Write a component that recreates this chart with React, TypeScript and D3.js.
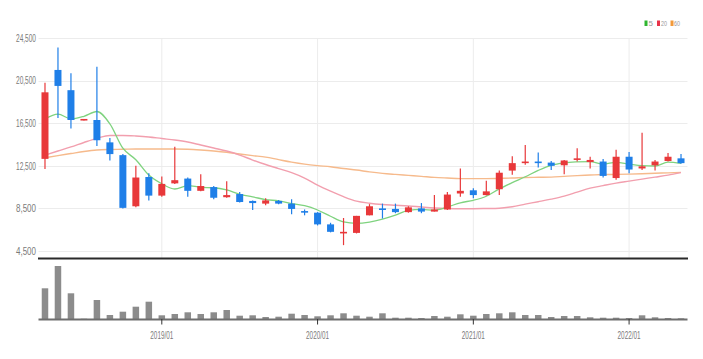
import React from 'react';
import * as d3 from 'd3';

// monthly candles, 2018/04 .. 2022/05
const months = [
  '2018/04', '2018/05', '2018/06', '2018/07', '2018/08', '2018/09', '2018/10', '2018/11', '2018/12',
  '2019/01', '2019/02', '2019/03', '2019/04', '2019/05', '2019/06', '2019/07', '2019/08', '2019/09', '2019/10', '2019/11', '2019/12',
  '2020/01', '2020/02', '2020/03', '2020/04', '2020/05', '2020/06', '2020/07', '2020/08', '2020/09', '2020/10', '2020/11', '2020/12',
  '2021/01', '2021/02', '2021/03', '2021/04', '2021/05', '2021/06', '2021/07', '2021/08', '2021/09', '2021/10', '2021/11', '2021/12',
  '2022/01', '2022/02', '2022/03', '2022/04', '2022/05',
];

const opens = [
  13150, 21500, 19600, 16750, 16800, 14700, 13500, 8700, 11450, 9700,
  10850, 11300, 10150, 10500, 9550, 9850, 9200, 8950, 9200, 8950,
  8250, 8100, 7000, 6150, 6200, 7850, 8500, 8450, 8150, 8500,
  8200, 8400, 9900, 10200, 9750, 10300, 12050, 12750, 12900, 12800,
  12550, 13050, 12850, 12900, 11350, 13350, 12250, 12550, 12950, 13200,
];
const highs = [
  20300, 23600, 21200, 16900, 21800, 15100, 13600, 12500, 11800, 11500,
  14300, 11400, 11700, 10600, 11050, 10050, 9250, 9450, 9300, 9350,
  8400, 8150, 7150, 7600, 7800, 8900, 8950, 8950, 8700, 9000,
  9750, 10050, 12250, 10400, 11100, 12050, 13400, 14450, 13750, 12950,
  13050, 14150, 13350, 13150, 14000, 13800, 15600, 13050, 13700, 13600,
];
const lows = [
  12200, 17000, 16000, 16750, 14350, 13000, 8500, 8600, 9250, 9600,
  10800, 9600, 10100, 9350, 9500, 9050, 8350, 8800, 8900, 7950,
  7850, 6900, 6250, 5050, 6150, 7850, 7550, 8050, 8100, 8050,
  8200, 8350, 9600, 9450, 9700, 9750, 11650, 12600, 12350, 12100,
  11700, 12900, 12250, 11400, 11200, 11800, 12100, 12050, 12900, 12700,
];
const closes = [
  19400, 20000, 16800, 16900, 14900, 13600, 8550, 11400, 9700, 10800,
  11150, 10150, 10600, 9500, 9750, 9100, 9000, 9250, 8950, 8450,
  8100, 7000, 6300, 6300, 7800, 8700, 8350, 8150, 8600, 8200,
  8400, 9800, 10150, 9750, 10100, 11850, 12750, 12900, 12750, 12500,
  13000, 13200, 13050, 11550, 13350, 12150, 12450, 12900, 13350, 12750,
];
const volumes = [
  3070, 5300, 2570, 30, 1900, 400, 730, 1230, 1730, 370,
  500, 670, 500, 670, 900, 330, 370, 200, 230, 530,
  400, 270, 370, 570, 330, 230, 570, 130, 130, 100,
  300, 230, 470, 330, 500, 570, 670, 400, 400, 200,
  300, 300, 170, 130, 130, 100, 370, 170, 100, 70,
];

const ma5 = [
  16900, 17350, 16900, 17150, 17600, 16440, 14150, 13070, 11630, 10810,
  10320, 10640, 10480, 10440, 10230, 9820, 9590, 9320, 9210, 8950,
  8750, 8350, 7760, 7230, 7100, 7220, 7490, 7860, 8320, 8400,
  8340, 8630, 9030, 9260, 9640, 10330, 10920, 11470, 12070, 12550,
  12780, 12870, 12900, 12660, 12830, 12660, 12510, 12480, 12840, 12720,
];
const ma20 = [
  13500, 13890, 14270, 14690, 15080, 15350, 15350, 15300, 15210, 15060,
  14920, 14730, 14450, 14170, 13890, 13510, 13040, 12620, 12240, 11860,
  11350, 10690, 10120, 9600, 9180, 8990, 8870, 8800, 8730, 8630,
  8540, 8490, 8470, 8470, 8490, 8520, 8660, 8900, 9130, 9370,
  9650, 10030, 10400, 10640, 10870, 11060, 11250, 11440, 11630, 11860,
];
const ma60 = [
  13260, 13460, 13650, 13840, 13980, 14030, 14050, 14080, 14080, 14080,
  14080, 14050, 13980, 13890, 13770, 13610, 13460, 13320, 13080, 12850,
  12660, 12520, 12410, 12240, 12100, 11930, 11790, 11690, 11600, 11510,
  11410, 11350, 11300, 11300, 11300, 11320, 11350, 11400, 11420, 11440,
  11510, 11580, 11630, 11680, 11690, 11720, 11760, 11800, 11840, 11880,
];

const priceTicks = [4500, 8500, 12500, 16500, 20500, 24500];
const yearTicks = ['2019/01', '2020/01', '2021/01', '2022/01'];

const UP = '#e8383a';
const DOWN = '#1f7fe8';

const App = () => {
  const left = 38.5;
  const right = 687.5;

  const x = d3.scaleBand<string>().domain(months).range([left, right]);
  const cx = (m: string) => (x(m) as number) + x.bandwidth() / 2;
  const y = d3.scaleLinear().domain([4500, 24500]).range([251, 38]);
  const yVol = d3.scaleLinear().domain([0, 6000]).range([319, 259]);
  const fmt = d3.format(',');

  const maLine = (vals: number[]) =>
    d3
      .line<number>()
      .x((_, i) => cx(months[i]))
      .y((d) => y(d))
      .curve(d3.curveMonotoneX)(vals) as string;

  const font = "'Liberation Sans Narrow', 'Liberation Sans', Arial, sans-serif";

  return (
    <svg width={703} height={359} style={{ position: 'absolute', left: 0, top: 0, background: '#fff' }}>
      {/* grid */}
      {priceTicks.map((t) => (
        <line key={t} x1={left} x2={right} y1={Math.round(y(t)) + 0.5} y2={Math.round(y(t)) + 0.5} stroke="#ececec" />
      ))}
      {yearTicks.map((m) => (
        <line key={m} x1={cx(m)} x2={cx(m)} y1={38} y2={258} stroke="#ececec" />
      ))}

      {/* y labels */}
      {priceTicks.map((t) => (
        <text
          key={t}
          x={36}
          y={y(t)}
          dy="0.35em"
          textAnchor="end"
          fontSize={11}
          fill="#7a7a7a"
          fontFamily={font}
          textLength={20}
          lengthAdjust="spacingAndGlyphs"
        >
          {fmt(t)}
        </text>
      ))}

      {/* moving averages */}
      <path d={maLine(ma60)} fill="none" stroke="#f6ba8c" strokeWidth={1.4} />
      <path d={maLine(ma20)} fill="none" stroke="#f29fae" strokeWidth={1.4} />
      <path d={maLine(ma5)} fill="none" stroke="#7fd37f" strokeWidth={1.3} />

      {/* candles */}
      {months.map((m, i) => {
        const o = opens[i];
        const c = closes[i];
        const up = c >= o;
        const col = up ? UP : DOWN;
        const top = y(Math.max(o, c));
        const h = Math.max(1.6, y(Math.min(o, c)) - top);
        return (
          <g key={m}>
            <line x1={cx(m)} x2={cx(m)} y1={y(highs[i])} y2={y(lows[i])} stroke={col} strokeWidth={1.2} />
            <rect x={cx(m) - 3.5} y={top} width={7} height={h} fill={col} />
          </g>
        );
      })}

      {/* separator */}
      <line x1={38} x2={688} y1={258.5} y2={258.5} stroke="#2a2a2a" strokeWidth={2} />

      {/* volume */}
      {months.map((m, i) => (
        <rect
          key={m}
          x={cx(m) - 3.25}
          y={yVol(volumes[i])}
          width={6.5}
          height={319 - yVol(volumes[i])}
          fill="#8c8c8c"
        />
      ))}
      <line x1={left} x2={right} y1={319.5} y2={319.5} stroke="#6e6e6e" strokeWidth={2.2} />

      {/* x axis */}
      {yearTicks.map((m) => (
        <g key={m}>
          <line x1={cx(m)} x2={cx(m)} y1={319} y2={324.5} stroke="#333" strokeWidth={1} />
          <text
            x={cx(m)}
            y={335}
            dy="0.35em"
            textAnchor="middle"
            fontSize={11}
            fill="#7a7a7a"
            fontFamily={font}
            textLength={23}
            lengthAdjust="spacingAndGlyphs"
          >
            {m}
          </text>
        </g>
      ))}

      {/* legend */}
      <rect x={644.5} y={20.5} width={3} height={5.5} fill="#2fb52f" />
      <text x={648.5} y={23.5} dy="0.35em" fontSize={8} fill="#999" fontFamily={font}>5</text>
      <rect x={657} y={20.5} width={3} height={5.5} fill="#e8334a" />
      <text x={661} y={23.5} dy="0.35em" fontSize={8} fill="#999" fontFamily={font} textLength={6} lengthAdjust="spacingAndGlyphs">20</text>
      <rect x={670.5} y={20.5} width={3} height={5.5} fill="#f39a3a" />
      <text x={674} y={23.5} dy="0.35em" fontSize={8} fill="#999" fontFamily={font} textLength={6} lengthAdjust="spacingAndGlyphs">60</text>
    </svg>
  );
};

export default App;
